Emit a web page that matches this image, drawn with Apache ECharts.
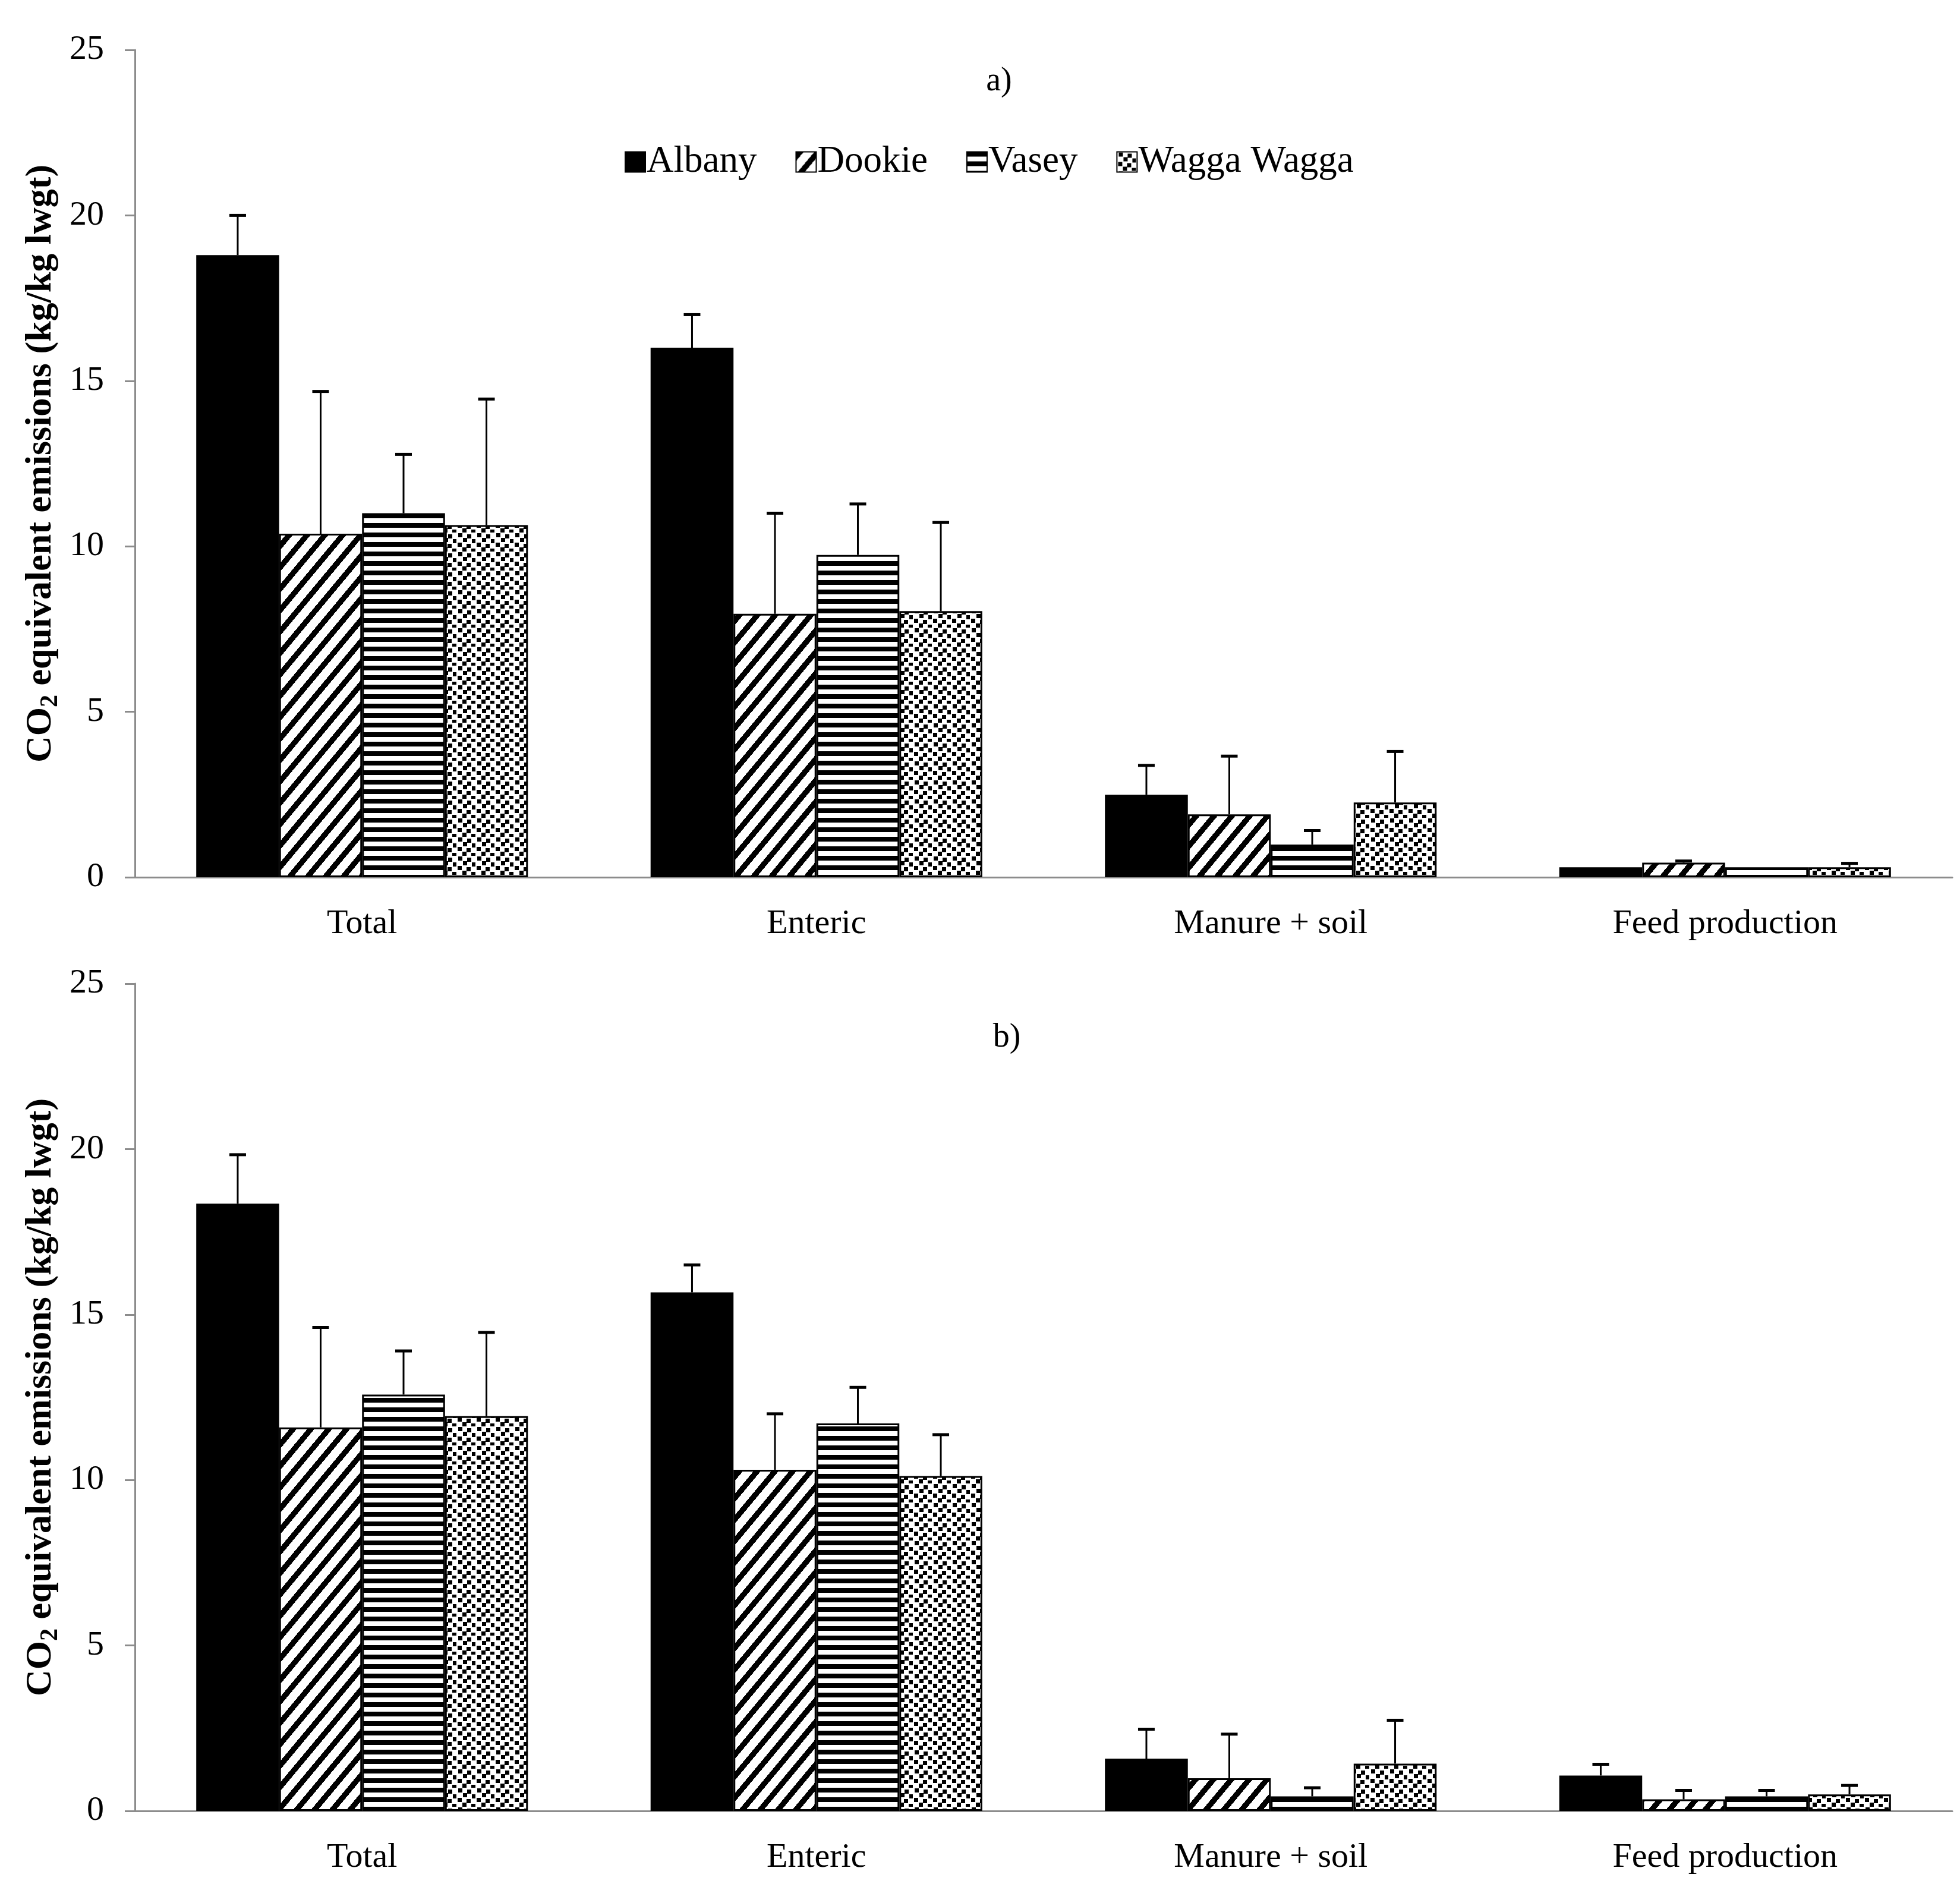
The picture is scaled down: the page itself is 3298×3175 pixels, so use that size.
<!DOCTYPE html>
<html lang="en">
<head>
    <meta charset="UTF-8">
    <title>CO2 equivalent emissions</title>
    <script src="https://cdn.jsdelivr.net/npm/echarts@6/dist/echarts.min.js"></script>
    <style>
        html, body {
            margin: 0;
            padding: 0;
            background: #ffffff;
        }

        #chart {
            width: 3298px;
            height: 3175px;
        }
    </style>
</head>
<body>
<div id="chart"></div>
<script>
    var categories = ['Total', 'Enteric', 'Manure + soil', 'Feed production'];
    var sites = ['Albany', 'Dookie', 'Vasey', 'Wagga Wagga'];
    var yTicks = [0, 5, 10, 15, 20, 25];

    /*a)*/
    var albanyA = [18.8, 16.0, 2.49, 0.30];
    var dookieA = [10.38, 7.96, 1.90, 0.44];
    var vaseyA = [11.0, 9.74, 0.99, 0.30];
    var waggaA = [10.64, 8.04, 2.26, 0.30];
    // top of the error bar (mean + sd); null = none drawn
    var albanyErrA = [20.0, 17.0, 3.38, null];
    var dookieErrA = [14.68, 11.0, 3.66, 0.49];
    var vaseyErrA = [12.78, 11.28, 1.41, null];
    var waggaErrA = [14.45, 10.72, 3.80, 0.42];

    /*b)*/
    var albanyB = [18.35, 15.67, 1.58, 1.07];
    var dookieB = [11.59, 10.31, 0.99, 0.35];
    var vaseyB = [12.58, 11.71, 0.44, 0.44];
    var waggaB = [11.93, 10.12, 1.43, 0.50];
    var albanyErrB = [19.83, 16.5, 2.47, 1.41];
    var dookieErrB = [14.61, 12.0, 2.32, 0.62];
    var vaseyErrB = [13.9, 12.8, 0.70, 0.62];
    var waggaErrB = [14.46, 11.37, 2.74, 0.77];

    var FONT = 'Liberation Serif';
    var AXIS_GREY = '#8c8c8c';
    var CAT_GAP = 0.27;

    /*fill patterns*/
    function makeTile(w, h, painter) {
        var c = document.createElement('canvas');
        c.width = w;
        c.height = h;
        var ctx = c.getContext('2d');
        ctx.fillStyle = '#ffffff';
        ctx.fillRect(0, 0, w, h);
        ctx.fillStyle = '#000000';
        painter(ctx, w, h);
        return c;
    }

    var diagTile = makeTile(30, 36, function (ctx, w, h) {
        for (var y = 0; y < h; y++) {
            for (var x = 0; x < w; x++) {
                var t = (x + y * w / h) % w;
                if (t < 12) ctx.fillRect(x, y, 1, 1);
            }
        }
    });
    var horizTile = makeTile(8, 16, function (ctx, w) {
        ctx.fillRect(0, 0, w, 8);
    });
    var dotTile = makeTile(32, 32, function (ctx) {
        var pts = [[3, 1], [18, 3], [11, 9], [26, 11], [2, 17], [17, 19], [10, 25], [25, 27]];
        pts.forEach(function (p) {
            ctx.fillRect(p[0], p[1], 7, 7);
        });
    });

    var fills = [
        '#000000',
        {image: diagTile, repeat: 'repeat'},
        {image: horizTile, repeat: 'repeat'},
        {image: dotTile, repeat: 'repeat'}
    ];

    var panels = [
        {vals: [albanyA, dookieA, vaseyA, waggaA], errs: [albanyErrA, dookieErrA, vaseyErrA, waggaErrA]},
        {vals: [albanyB, dookieB, vaseyB, waggaB], errs: [albanyErrB, dookieErrB, vaseyErrB, waggaErrB]}
    ];

    function errRender(siteIdx) {
        return function (params, api) {
            var cat = api.value(0);
            var v = api.value(1);
            var e = api.value(2);
            var band = api.size([1, 0])[0];
            var bw = band * (1 - CAT_GAP) / sites.length;
            var x = api.coord([cat, 0])[0] + (siteIdx - (sites.length - 1) / 2) * bw;
            var y0 = api.coord([cat, v])[1];
            var y1 = api.coord([cat, e])[1];
            return {
                type: 'group',
                children: [
                    {
                        type: 'line',
                        shape: {x1: x, y1: y0, x2: x, y2: y1},
                        style: {stroke: '#000', lineWidth: 3}
                    },
                    {
                        type: 'line',
                        shape: {x1: x - 14, y1: y1, x2: x + 14, y2: y1},
                        style: {stroke: '#000', lineWidth: 5}
                    }
                ]
            };
        };
    }

    var grids = [
        {left: 227, right: 13, top: 84, height: 1392},
        {left: 227, right: 13, top: 1655, height: 1392}
    ];

    var xAxes = [], yAxes = [], series = [];
    panels.forEach(function (panel, p) {
        xAxes.push({
            type: 'category',
            gridIndex: p,
            data: categories,
            boundaryGap: true,
            axisLine: {lineStyle: {color: AXIS_GREY, width: 3}},
            axisTick: {length: 22, lineStyle: {color: AXIS_GREY, width: 3}},
            axisLabel: {
                margin: 50,
                fontFamily: FONT,
                fontSize: 58,
                color: '#000'
            }
        });
        yAxes.push({
            type: 'value',
            gridIndex: p,
            min: yTicks[0],
            max: yTicks[yTicks.length - 1],
            interval: yTicks[1] - yTicks[0],
            splitLine: {show: false},
            axisLine: {show: true, lineStyle: {color: AXIS_GREY, width: 3}},
            axisTick: {show: true, length: 17, lineStyle: {color: AXIS_GREY, width: 3}},
            axisLabel: {
                margin: 52,
                fontFamily: FONT,
                fontSize: 58,
                color: '#000'
            },
            name: '{m|CO}{s|2}{m| equivalent emissions (kg/kg lwgt)}',
            nameLocation: 'middle',
            nameGap: 120,
            nameTextStyle: {
                rich: {
                    m: {fontFamily: FONT, fontWeight: 'bold', fontSize: 62, lineHeight: 74, color: '#000'},
                    s: {fontFamily: FONT, fontWeight: 'bold', fontSize: 42, lineHeight: 42, verticalAlign: 'bottom', color: '#000'}
                }
            }
        });

        sites.forEach(function (site, i) {
            series.push({
                name: site,
                type: 'bar',
                xAxisIndex: p,
                yAxisIndex: p,
                barGap: '0%',
                barCategoryGap: (CAT_GAP * 100) + '%',
                itemStyle: {color: fills[i], borderColor: '#000', borderWidth: 3},
                emphasis: {disabled: true},
                data: panel.vals[i]
            });
        });
        sites.forEach(function (site, i) {
            var errData = [];
            panel.errs[i].forEach(function (e, c) {
                if (e !== null) errData.push([c, panel.vals[i][c], e]);
            });
            series.push({
                type: 'custom',
                xAxisIndex: p,
                yAxisIndex: p,
                renderItem: errRender(i),
                encode: {x: 0, y: 2},
                z: 5,
                silent: true,
                data: errData
            });
        });
    });

    var chart = echarts.init(document.getElementById('chart'));
    var option = {
        backgroundColor: '#ffffff',
        animation: false,
        title: [
            {text: 'a)', left: 1676, top: 132, textAlign: 'center', textVerticalAlign: 'middle',
                textStyle: {fontFamily: FONT, fontSize: 56, fontWeight: 'normal', color: '#000'}},
            {text: 'b)', left: 1689, top: 1741, textAlign: 'center', textVerticalAlign: 'middle',
                textStyle: {fontFamily: FONT, fontSize: 56, fontWeight: 'normal', color: '#000'}}
        ],
        legend: {
            data: sites,
            left: 1046,
            top: 236,
            icon: 'rect',
            itemWidth: 34,
            itemHeight: 34,
            itemGap: 65,
            textStyle: {fontFamily: FONT, fontSize: 63, color: '#000', padding: [0, 0, 0, -3]}
        },
        grid: grids,
        xAxis: xAxes,
        yAxis: yAxes,
        series: series
    };
    chart.setOption(option);
</script>
</body>
</html>
